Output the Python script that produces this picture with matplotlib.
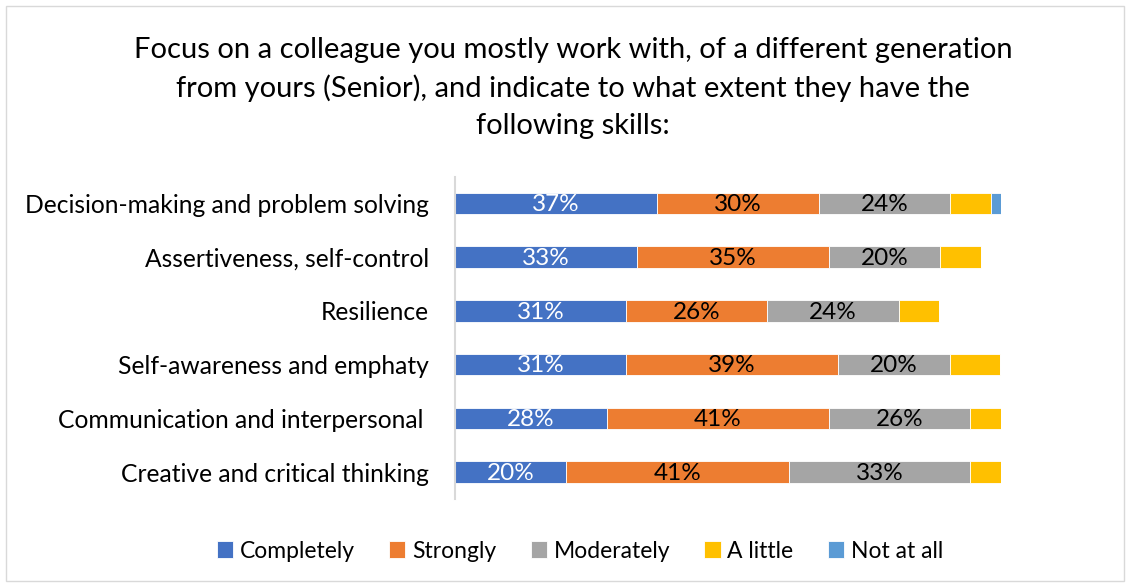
import matplotlib
matplotlib.use('Agg')
import matplotlib.pyplot as plt
from matplotlib.patches import Rectangle

plt.rcParams['font.family'] = ['Lato', 'DejaVu Sans']

# --- dados ---
skills = ['Decision-making and problem solving',
          'Assertiveness, self-control',
          'Resilience',
          'Self-awareness and emphaty',
          'Communication and interpersonal ',
          'Creative and critical thinking']
completely = [37.0, 33.3, 31.3, 31.3, 27.8, 20.4]
strongly = [29.6, 35.2, 25.9, 38.9, 40.7, 40.7]
moderately = [24.1, 20.4, 24.1, 20.4, 25.9, 33.3]
a_little = [7.4, 7.4, 7.4, 9.3, 5.6, 5.6]
not_at_all = [1.9, 0, 0, 0, 0, 0]

series = [('Completely', completely, '#4472C4', 'white'),
          ('Strongly', strongly, '#ED7D31', 'black'),
          ('Moderately', moderately, '#A5A5A5', 'black'),
          ('A little', a_little, '#FFC000', None),
          ('Not at all', not_at_all, '#5B9BD5', None)]

fig = plt.figure(figsize=(11.3, 5.87), dpi=100)
ax = fig.add_axes([455 / 1130, 1 - 499 / 587, 546 / 1130, 322.4 / 587])

y = list(range(len(skills)))
left = [0] * len(skills)
handles = []
for nome, vals, cor, cor_txt in series:
    bars = ax.barh(y, vals, left=left, height=0.4, color=cor,
                   edgecolor='white', linewidth=0.6, label=nome)
    handles.append(bars)
    # rótulos só nas três primeiras séries
    if cor_txt:
        for yi, l, v in zip(y, left, vals):
            ax.text(l + v / 2, yi + 0.02, f'{round(v)}%', ha='center', va='center',
                    color=cor_txt, fontsize=17.5)
    left = [a + b for a, b in zip(left, vals)]

ax.set_xlim(0, 100)
ax.set_ylim(len(skills) - 0.5, -0.5)
ax.set_yticks(y)
ax.set_yticklabels(skills, fontsize=17.7)
ax.tick_params(axis='y', length=0, pad=18.5)
ax.set_xticks([])
for s in ['top', 'right', 'bottom']:
    ax.spines[s].set_visible(False)
ax.spines['left'].set_color('#D9D9D9')
ax.spines['left'].set_linewidth(1.5)

fig.text(573 / 1130, 1 - 88 / 587,
         'Focus on a colleague you mostly work with, of a different generation\n'
         'from yours (Senior), and indicate to what extent they have the\n'
         'following skills:',
         ha='center', va='center', fontsize=21, linespacing=1.5)

fig.legend(handles=handles, loc='center', bbox_to_anchor=(580 / 1130, 1 - 551 / 587),
           ncol=5, frameon=False, fontsize=16.5, handlelength=0.7, handleheight=0.7,
           handletextpad=0.3, columnspacing=1.5)

# moldura do gráfico
fig.patches.append(Rectangle((6 / 1130, 6 / 587), 1118 / 1130, 575 / 587,
                             transform=fig.transFigure, fill=False,
                             edgecolor='#D9D9D9', linewidth=1))

fig.savefig('out.png', dpi=100)
